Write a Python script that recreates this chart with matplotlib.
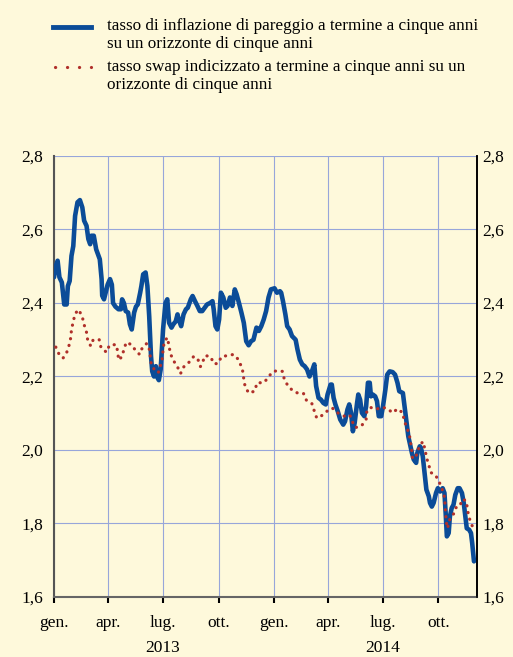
import numpy as np
import matplotlib
matplotlib.use("Agg")
import matplotlib.pyplot as plt
import matplotlib.dates as mdates
import matplotlib.transforms as mtransforms
from matplotlib.lines import Line2D

# ---- data: days since 2013-01-01 and values (percent) ----
be_days = [0, 3, 6, 9, 13, 17, 21, 23, 26, 29, 32, 35, 39, 43, 47, 50, 54, 57, 60, 62, 66, 70, 76, 79,
           80, 83, 86, 89, 93, 96, 98, 102, 107, 111, 113, 116, 119, 123, 126, 129, 133, 136, 139, 143,
           145, 148, 152, 155, 158, 161, 163, 166, 169, 172, 174, 177, 181, 185, 188, 191, 195, 198, 202,
           205, 207, 211, 215, 219, 222, 227, 230, 234, 238, 242, 246, 250, 254, 259, 263, 265, 268, 271,
           274, 277, 281, 285, 288, 292, 296, 300, 303, 307, 311, 315, 319, 323, 327, 331, 336, 340, 344,
           348, 352, 356, 360, 366, 370, 375, 377, 380, 384, 387, 391, 395, 401, 404, 408, 412, 416, 420,
           424, 428, 432, 435, 439, 443, 447, 451, 454, 459, 461, 464, 467, 471, 475, 480, 483, 487, 490,
           493, 496, 499, 503, 505, 508, 511, 515, 518, 521, 524, 526, 529, 533, 536, 539, 543, 546, 550,
           553, 557, 562, 566, 570, 573, 579, 582, 585, 588, 591, 594, 597, 601, 603, 607, 609, 612, 615,
           618, 622, 624, 627, 630, 634, 637, 641, 645, 648, 650, 652, 655, 657, 660, 663, 666, 670, 673,
           677, 680, 682, 685, 689, 692, 694, 697]
be_vals = [2.47, 2.50, 2.515, 2.47, 2.456, 2.396, 2.396, 2.446, 2.46, 2.528, 2.555, 2.637, 2.674, 2.68,
           2.66, 2.624, 2.61, 2.574, 2.56, 2.583, 2.583, 2.546, 2.519, 2.465, 2.42, 2.41, 2.43, 2.45,
           2.465, 2.45, 2.40, 2.39, 2.383, 2.383, 2.41, 2.40, 2.378, 2.374, 2.342, 2.328, 2.374, 2.39,
           2.396, 2.428, 2.446, 2.478, 2.483, 2.446, 2.364, 2.255, 2.214, 2.20, 2.228, 2.196, 2.19, 2.219,
           2.328, 2.40, 2.41, 2.346, 2.333, 2.342, 2.35, 2.369, 2.355, 2.337, 2.369, 2.383, 2.387, 2.41,
           2.419, 2.405, 2.392, 2.378, 2.378, 2.387, 2.396, 2.40, 2.405, 2.383, 2.337, 2.328, 2.355, 2.428,
           2.415, 2.387, 2.392, 2.415, 2.392, 2.437, 2.424, 2.40, 2.374, 2.346, 2.296, 2.285, 2.296, 2.30,
           2.333, 2.324, 2.337, 2.355, 2.378, 2.415, 2.437, 2.44, 2.428, 2.432, 2.428, 2.405, 2.369, 2.337,
           2.328, 2.31, 2.30, 2.274, 2.246, 2.233, 2.228, 2.219, 2.20, 2.214, 2.233, 2.174, 2.142, 2.137,
           2.128, 2.124, 2.151, 2.178, 2.178, 2.142, 2.124, 2.105, 2.083, 2.069, 2.078, 2.11, 2.124, 2.101,
           2.051, 2.074, 2.128, 2.151, 2.137, 2.101, 2.092, 2.119, 2.183, 2.183, 2.146, 2.151, 2.146, 2.133,
           2.092, 2.092, 2.119, 2.165, 2.205, 2.214, 2.212, 2.205, 2.183, 2.16, 2.155, 2.115, 2.074, 2.037,
           2.015, 1.992, 1.974, 1.965, 1.992, 2.01, 2.006, 1.983, 1.937, 1.892, 1.874, 1.856, 1.846, 1.856,
           1.883, 1.896, 1.887, 1.896, 1.883, 1.828, 1.765, 1.774, 1.819, 1.842, 1.851, 1.878, 1.896, 1.896,
           1.883, 1.856, 1.828, 1.787, 1.783, 1.774, 1.747, 1.697]

sw_days = [3, 8, 15, 21, 25, 28, 29, 32, 35, 41, 47, 50, 54, 56, 61, 65, 75, 78, 87, 92, 103, 106, 107,
           113, 116, 120, 128, 135, 142, 147, 154, 159, 160, 162, 168, 173, 176, 180, 181, 183, 188, 191,
           193, 198, 205, 210, 216, 225, 232, 239, 243, 246, 251, 260, 265, 272, 278, 288, 298, 305, 309,
           313, 315, 317, 323, 333, 337, 348, 355, 362, 370, 379, 382, 388, 397, 406, 414, 419, 428, 432,
           436, 446, 454, 462, 471, 482, 491, 496, 500, 510, 518, 519, 525, 534, 545, 553, 562, 570, 579,
           581, 586, 590, 592, 594, 595, 602, 606, 612, 616, 618, 622, 625, 633, 639, 644, 648, 649, 650,
           651, 653, 657, 663, 667, 673, 678, 684, 686, 688, 692, 697]
sw_vals = [2.28, 2.262, 2.25, 2.265, 2.285, 2.307, 2.328, 2.349, 2.371, 2.382, 2.362, 2.341, 2.32, 2.298,
           2.283, 2.30, 2.30, 2.279, 2.266, 2.285, 2.287, 2.266, 2.245, 2.254, 2.274, 2.293, 2.287, 2.272,
           2.26, 2.28, 2.29, 2.271, 2.248, 2.228, 2.217, 2.21, 2.225, 2.251, 2.274, 2.294, 2.306, 2.283,
           2.263, 2.244, 2.226, 2.208, 2.228, 2.24, 2.255, 2.246, 2.227, 2.237, 2.257, 2.254, 2.235, 2.235,
           2.254, 2.257, 2.26, 2.248, 2.235, 2.216, 2.193, 2.174, 2.155, 2.16, 2.183, 2.183, 2.196, 2.212,
           2.216, 2.214, 2.194, 2.175, 2.16, 2.154, 2.154, 2.135, 2.126, 2.106, 2.087, 2.095, 2.107, 2.114,
           2.101, 2.092, 2.095, 2.074, 2.061, 2.065, 2.083, 2.103, 2.116, 2.111, 2.116, 2.113, 2.101, 2.112,
           2.101, 2.08, 2.06, 2.039, 2.017, 1.996, 1.976, 1.987, 2.008, 2.023, 2.001, 1.98, 1.96, 1.939,
           1.932, 1.914, 1.894, 1.872, 1.851, 1.828, 1.805, 1.787, 1.812, 1.826, 1.843, 1.846, 1.866, 1.862,
           1.842, 1.821, 1.801, 1.783]

month_labels = ["gen.", "apr.", "lug.", "ott.", "gen.", "apr.", "lug.", "ott."]
month_ticks = ["2013-01-01", "2013-04-01", "2013-07-01", "2013-10-01",
               "2014-01-01", "2014-04-01", "2014-07-01", "2014-10-01"]
year_labels = ["2013", "2014"]
year_pos = ["2013-07-01", "2014-07-01"]
y_ticks = [1.6, 1.8, 2.0, 2.2, 2.4, 2.6, 2.8]
y_labels = ["1,6", "1,8", "2,0", "2,2", "2,4", "2,6", "2,8"]
legend_labels = ["tasso di inflazione di pareggio a termine a cinque anni\nsu un orizzonte di cinque anni",
                 "tasso swap indicizzato a termine a cinque anni su un\norizzonte di cinque anni"]

# ---- style ----
BG = "#FEF9DB"
BLUE = "#0B4C98"
RED = "#B0302A"
GRID = "#97A6DA"
FONT = "Liberation Serif"
plt.rcParams["font.family"] = [FONT, "DejaVu Serif"]

base = np.datetime64("2013-01-01")
be_dates = base + np.array(be_days).astype("timedelta64[D]")
sw_dates = base + np.array(sw_days).astype("timedelta64[D]")

fig = plt.figure(figsize=(5.13, 6.57), dpi=100, facecolor=BG)
W, H = 513, 657
ax = fig.add_axes([54 / W, 1 - 597 / H, (477 - 54) / W, (597 - 156) / H])
ax.set_facecolor(BG)

ax.plot(be_dates, be_vals, color=BLUE, lw=3.3, solid_joinstyle="round", solid_capstyle="round", zorder=3)
ax.plot(sw_dates, sw_vals, color=RED, lw=2.3, linestyle=(0, (0.05, 2.1)), dash_capstyle="round", zorder=4)

ax.set_ylim(1.6, 2.8)
ax.set_xlim(np.datetime64("2013-01-01"), np.datetime64("2014-12-04"))

xt = [np.datetime64(d) for d in month_ticks]
ax.set_xticks(mdates.date2num(xt))
ax.set_xticklabels(month_labels, fontsize=12.5)
ax.set_yticks(y_ticks)
ax.set_yticklabels(y_labels, fontsize=12.5)
ax.grid(True, color=GRID, lw=0.8, zorder=1)
ax.set_axisbelow(True)

ax.tick_params(axis="x", which="major", direction="out", length=4, width=1.5, color="black", pad=9)
ax.tick_params(axis="y", which="both", length=0, pad=8)
ax.set_xticks(mdates.date2num([np.datetime64("2013-01-01"), np.datetime64("2014-01-01")]), minor=True)
ax.tick_params(axis="x", which="minor", direction="out", length=9, width=1.5, color="black")

ax.spines["top"].set_visible(False)
ax.spines["left"].set_color("#555555")
ax.spines["left"].set_linewidth(1.5)
ax.spines["bottom"].set_color("#666666")
ax.spines["bottom"].set_linewidth(1.5)
ax.spines["right"].set_color("black")
ax.spines["right"].set_linewidth(1.2)

ax2 = ax.twinx()
ax2.set_ylim(1.6, 2.8)
ax2.set_yticks(y_ticks)
ax2.set_yticklabels(y_labels, fontsize=12.5)
ax2.tick_params(axis="y", length=0, pad=4)
for s in ["top", "left", "bottom"]:
    ax2.spines[s].set_visible(False)
ax2.spines["right"].set_color("black")
ax2.spines["right"].set_linewidth(1.2)

trans = mtransforms.blended_transform_factory(ax.transData, fig.transFigure)
for lab, pos in zip(year_labels, year_pos):
    ax.text(mdates.date2num(np.datetime64(pos)), 1 - 648 / H, lab, transform=trans,
            ha="center", va="center", fontsize=12.5)

# ---- legend (manual) ----
fig.add_artist(Line2D([53 / W, 91 / W], [1 - 27 / H, 1 - 27 / H], color=BLUE, lw=3.5,
                      transform=fig.transFigure))
fig.add_artist(Line2D([55 / W, 91 / W], [1 - 67 / H, 1 - 67 / H], color=RED, lw=2.3,
                      linestyle=(0, (0.05, 3.7)), dash_capstyle="round", transform=fig.transFigure))
fig.text(107 / W, 1 - 35 / H, legend_labels[0], ha="left", va="center", fontsize=12.3, linespacing=1.17)
fig.text(107 / W, 1 - 76 / H, legend_labels[1], ha="left", va="center", fontsize=12.3, linespacing=1.17)

fig.savefig("out.png", dpi=100, facecolor=BG)
